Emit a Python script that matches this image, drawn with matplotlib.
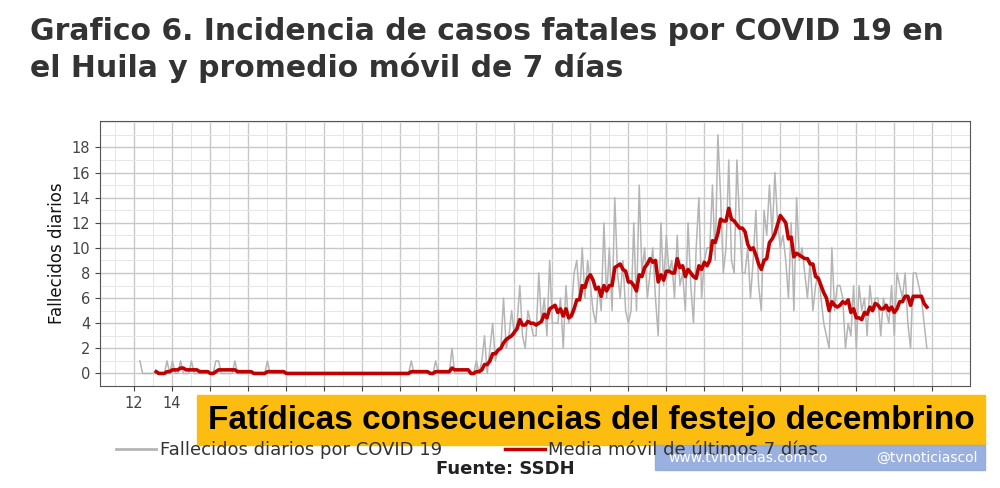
import numpy as np
import pandas as pd
import matplotlib
matplotlib.use("Agg")
import matplotlib.pyplot as plt
from matplotlib.patches import Rectangle
from matplotlib.lines import Line2D

# daily deaths, one row per week, first day at epi-week 12.3
daily_deaths = [
    1, 0, 0, 0, 0, 0, 0,
    0, 0, 0, 1, 0, 1, 0,
    0, 1, 0, 0, 0, 1, 0,
    0, 0, 0, 0, 0, 0, 0,
    1, 1, 0, 0, 0, 0, 0,
    1, 0, 0, 0, 0, 0, 0,
    0, 0, 0, 0, 0, 1, 0,
    0, 0, 0, 0, 0, 0, 0,
    0, 0, 0, 0, 0, 0, 0,
    0, 0, 0, 0, 0, 0, 0,
    0, 0, 0, 0, 0, 0, 0,
    0, 0, 0, 0, 0, 0, 0,
    0, 0, 0, 0, 0, 0, 0,
    0, 0, 0, 0, 0, 0, 0,
    0, 0, 1, 0, 0, 0, 0,
    0, 0, 0, 0, 1, 0, 0,
    0, 0, 0, 2, 0, 0, 0,
    0, 0, 0, 0, 0, 1, 0,
    1, 3, 0, 2, 4, 1, 2,
    2, 6, 2, 3, 5, 3, 4,
    7, 3, 2, 5, 4, 3, 3,
    8, 4, 6, 3, 9, 4, 4,
    4, 6, 2, 7, 4, 5, 8,
    9, 6, 10, 6, 9, 7, 5,
    4, 7, 5, 12, 6, 10, 5,
    14, 8, 6, 9, 5, 4, 5,
    12, 5, 15, 8, 10, 6, 8,
    10, 6, 3, 12, 7, 11, 8,
    9, 6, 11, 7, 8, 5, 12,
    7, 4, 10, 14, 6, 9, 10,
    10, 15, 9, 19, 14, 8, 10,
    17, 9, 8, 17, 12, 8, 8,
    10, 6, 9, 13, 7, 5, 13,
    11, 15, 11, 16, 12, 10, 11,
    9, 6, 12, 5, 14, 9, 10,
    8, 6, 9, 5, 7, 8, 6,
    4, 3, 2, 10, 5, 7, 7,
    6, 2, 4, 3, 7, 2, 7,
    5, 6, 3, 7, 5, 6, 6,
    3, 6, 5, 4, 7, 3, 8,
    7, 6, 8, 4, 2, 8, 8,
    7, 6, 4, 2,
]
start_week = 12.3
x_ticks = list(range(12, 56, 2))
y_ticks = list(range(0, 20, 2))

title = ("Grafico 6. Incidencia de casos fatales por COVID 19 en\n"
         "el Huila y promedio móvil de 7 días")
banner = "Fatídicas consecuencias del festejo decembrino"

s = pd.Series(daily_deaths, dtype=float)
weeks = start_week + np.arange(len(s)) / 7.0
avg7 = s.rolling(7).mean()

fig = plt.figure(figsize=(10, 4.88), dpi=100)
ax = fig.add_axes([0.1, 0.209, 0.87, 0.543])

ax.plot(weeks, s, color="#b5b5b5", linewidth=1.1)
ax.plot(weeks, avg7, color="#c00000", linewidth=2.6)

ax.set_xlim(10.2, 56)
ax.set_ylim(-0.95, 20.1)
ax.set_xticks(x_ticks)
ax.set_yticks(y_ticks)
ax.set_xticks(np.arange(11, 57, 1), minor=True)
ax.set_yticks(np.arange(-1, 21, 1), minor=True)
ax.grid(True, which="major", color="#c8c8c8", linewidth=1.0)
ax.grid(True, which="minor", color="#e6e6e6", linewidth=0.7)
ax.set_axisbelow(True)
ax.tick_params(which="minor", length=0)
ax.tick_params(colors="#444444", labelsize=10.5)
for sp in ax.spines.values():
    sp.set_color("#555555")
ax.set_ylabel("Fallecidos diarios", fontsize=12, color="#111111")

fig.text(0.03, 0.965, title, fontsize=21.5, fontweight="bold", color="#333333",
         va="top", linespacing=1.25)

# legend
fig.legend(handles=[Line2D([], [], color="#b5b5b5", lw=2),
                    Line2D([], [], color="#c00000", lw=2.5)],
           labels=["Fallecidos diarios por COVID 19", "Media móvil de últimos 7 días"],
           loc="center left", bbox_to_anchor=(0.1, 0.078), ncol=2, frameon=False,
           fontsize=13, handlelength=2.2, columnspacing=3.5, handletextpad=0.2,
           labelcolor="#333333")

fig.text(0.505, 0.02, "Fuente: SSDH", fontsize=13, fontweight="bold",
         ha="center", va="bottom", color="#222222")

# overlay banner
fig.patches.append(Rectangle((0.197, 1 - 445 / 488), 0.788, 50 / 488,
                             transform=fig.transFigure, color="#fdbd10", zorder=5))
fig.text(0.591, 1 - 420 / 488, banner, fontsize=24, fontweight="bold",
         family="Liberation Sans", ha="center", va="center", zorder=6)
fig.patches.append(Rectangle((0.655, 1 - 470 / 488), 0.33, 25 / 488,
                             transform=fig.transFigure, color="#8fa9dc",
                             alpha=0.9, zorder=5))
fig.text(0.668, 1 - 458 / 488, "www.tvnoticias.com.co", fontsize=10,
         color="white", va="center", zorder=6)
fig.text(0.978, 1 - 458 / 488, "@tvnoticiascol", fontsize=10,
         color="white", va="center", ha="right", zorder=6)

fig.savefig("out.png", dpi=100)
